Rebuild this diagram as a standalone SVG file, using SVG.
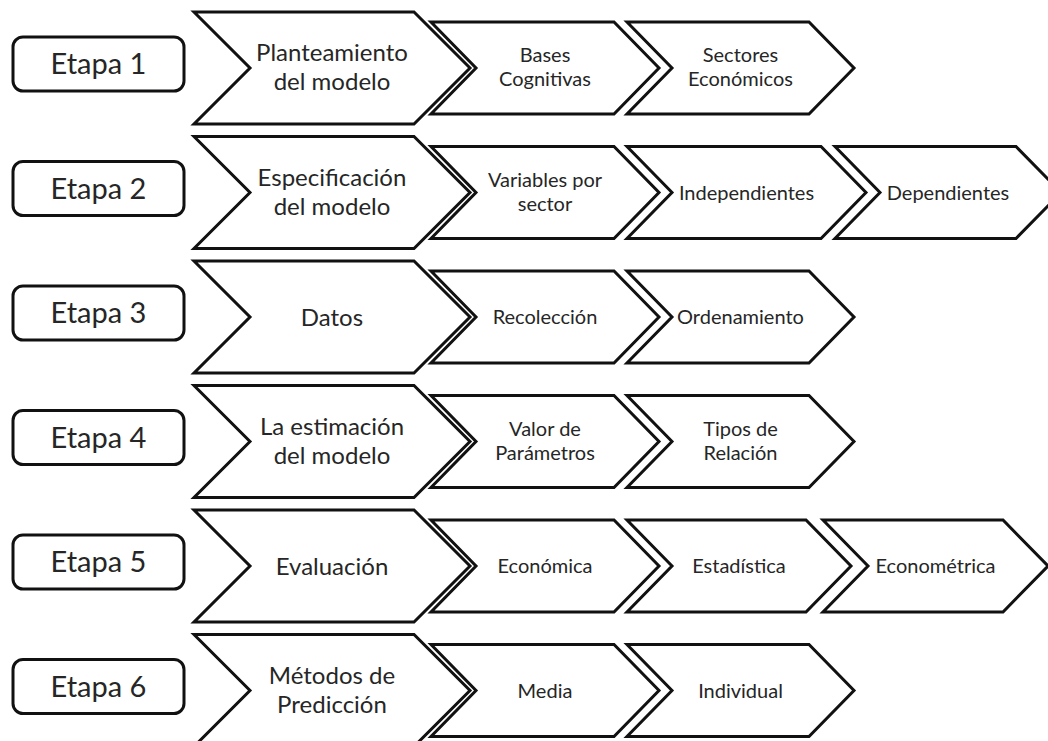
<svg xmlns="http://www.w3.org/2000/svg" width="1048" height="741" viewBox="0 0 1048 741">
<style>
.box{fill:#fff;stroke:#111;stroke-width:3}
.big{fill:#fff;stroke:#111;stroke-width:3;stroke-linejoin:miter}
.sm{fill:#fff;stroke:#111;stroke-width:3;stroke-linejoin:miter}
text{font-family:Lato,"Liberation Sans",sans-serif;fill:#262626;text-anchor:middle}
.te{font-size:29px}
.tb{font-size:24px}
.ts{font-size:20px}
</style>
<rect width="1048" height="741" fill="#fff"/>
<g id="connectors"></g>

<!-- Row 1 c=68 -->
<g id="etapa1"><rect class="box" x="13" y="37" width="171" height="54" rx="10"/><text class="te" x="98.5" y="74">Etapa 1</text></g>
<g id="planteamiento"><polygon class="big" points="194,12 414,12 470,68 414,124 194,124 250,68"/><text class="tb" x="332" y="61">Planteamiento</text><text class="tb" x="332" y="90">del modelo</text></g>
<g id="bases"><polygon class="sm" points="431,22 614,22 659,68 614,114 431,114 476,68"/><text class="ts" x="545" y="62">Bases</text><text class="ts" x="545" y="86">Cognitivas</text></g>
<g id="sectores"><polygon class="sm" points="627,22 809,22 854,68 809,114 627,114 672,68"/><text class="ts" x="740.5" y="62">Sectores</text><text class="ts" x="740.5" y="86">Económicos</text></g>

<!-- Row 2 c=192.5 -->
<g id="etapa2"><rect class="box" x="13" y="161.5" width="171" height="54" rx="10"/><text class="te" x="98.5" y="198.5">Etapa 2</text></g>
<g id="especificacion"><polygon class="big" points="194,136.5 414,136.5 470,192.5 414,248.5 194,248.5 250,192.5"/><text class="tb" x="332" y="185.5">Especificación</text><text class="tb" x="332" y="214.5">del modelo</text></g>
<g id="variables"><polygon class="sm" points="431,146.5 614,146.5 659,192.5 614,238.5 431,238.5 476,192.5"/><text class="ts" x="545" y="186.5">Variables por</text><text class="ts" x="545" y="210.5">sector</text></g>
<g id="independientes"><polygon class="sm" points="627,146.5 821,146.5 866,192.5 821,238.5 627,238.5 672,192.5"/><text class="ts" x="746.5" y="199.5">Independientes</text></g>
<g id="dependientes"><polygon class="sm" points="835,146.5 1016,146.5 1061,192.5 1016,238.5 835,238.5 880,192.5"/><text class="ts" x="948" y="199.5">Dependientes</text></g>

<!-- Row 3 c=317 -->
<g id="etapa3"><rect class="box" x="13" y="286" width="171" height="54" rx="10"/><text class="te" x="98.5" y="323">Etapa 3</text></g>
<g id="datos"><polygon class="big" points="194,261 414,261 470,317 414,373 194,373 250,317"/><text class="tb" x="332" y="325.5">Datos</text></g>
<g id="recoleccion"><polygon class="sm" points="431,271 614,271 659,317 614,363 431,363 476,317"/><text class="ts" x="545" y="324">Recolección</text></g>
<g id="ordenamiento"><polygon class="sm" points="627,271 809,271 854,317 809,363 627,363 672,317"/><text class="ts" x="740.5" y="324">Ordenamiento</text></g>

<!-- Row 4 c=441.5 -->
<g id="etapa4"><rect class="box" x="13" y="410.5" width="171" height="54" rx="10"/><text class="te" x="98.5" y="447.5">Etapa 4</text></g>
<g id="estimacion"><polygon class="big" points="194,385.5 414,385.5 470,441.5 414,497.5 194,497.5 250,441.5"/><text class="tb" x="332" y="434.5">La estimación</text><text class="tb" x="332" y="463.5">del modelo</text></g>
<g id="valor"><polygon class="sm" points="431,395.5 614,395.5 659,441.5 614,487.5 431,487.5 476,441.5"/><text class="ts" x="545" y="435.5">Valor de</text><text class="ts" x="545" y="459.5">Parámetros</text></g>
<g id="tipos"><polygon class="sm" points="627,395.5 809,395.5 854,441.5 809,487.5 627,487.5 672,441.5"/><text class="ts" x="740.5" y="435.5">Tipos de</text><text class="ts" x="740.5" y="459.5">Relación</text></g>

<!-- Row 5 c=566 -->
<g id="etapa5"><rect class="box" x="13" y="535" width="171" height="54" rx="10"/><text class="te" x="98.5" y="572">Etapa 5</text></g>
<g id="evaluacion"><polygon class="big" points="194,510 414,510 470,566 414,622 194,622 250,566"/><text class="tb" x="332" y="574.5">Evaluación</text></g>
<g id="economica"><polygon class="sm" points="431,520 614,520 659,566 614,612 431,612 476,566"/><text class="ts" x="545" y="573">Económica</text></g>
<g id="estadistica"><polygon class="sm" points="627,520 806,520 851,566 806,612 627,612 672,566"/><text class="ts" x="739" y="573">Estadística</text></g>
<g id="econometrica"><polygon class="sm" points="823,520 1003,520 1048,566 1003,612 823,612 868,566"/><text class="ts" x="935.5" y="573">Econométrica</text></g>

<!-- Row 6 c=690.5 -->
<g id="etapa6"><rect class="box" x="13" y="659.5" width="171" height="54" rx="10"/><text class="te" x="98.5" y="696.5">Etapa 6</text></g>
<g id="metodos"><polygon class="big" points="194,634.5 414,634.5 470,690.5 414,746.5 194,746.5 250,690.5"/><text class="tb" x="332" y="683.5">Métodos de</text><text class="tb" x="332" y="712.5">Predicción</text></g>
<g id="media"><polygon class="sm" points="431,644.5 614,644.5 659,690.5 614,736.5 431,736.5 476,690.5"/><text class="ts" x="545" y="697.5">Media</text></g>
<g id="individual"><polygon class="sm" points="627,644.5 809,644.5 854,690.5 809,736.5 627,736.5 672,690.5"/><text class="ts" x="740.5" y="697.5">Individual</text></g>
</svg>
